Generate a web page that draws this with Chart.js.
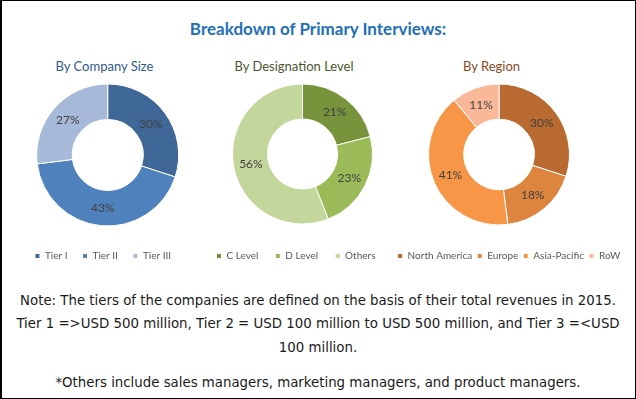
<!DOCTYPE html>
<html><head><meta charset="utf-8">
<script src="https://cdn.jsdelivr.net/npm/chart.js@4.4.0/dist/chart.umd.min.js"></script>
<style>
html,body{margin:0;padding:0;background:#fff;}
#frame{position:relative;width:636px;height:399px;overflow:hidden;background:#fff;}
#border{position:absolute;left:0;top:0;width:636px;height:399px;box-sizing:border-box;border:1px solid #000;border-left-width:2px;pointer-events:none;}
.abs{position:absolute;white-space:nowrap;}
#title{left:0;width:636px;top:19px;line-height:20px;text-align:center;font-family:Lato;font-weight:bold;font-size:17px;color:#1f6fb5;}
.sub{top:57px;line-height:18px;width:200px;text-align:center;font-family:Lato;font-size:13px;}
.note{left:0;width:636px;text-align:center;font-family:"DejaVu Sans";font-size:12px;line-height:20px;color:#1a1a1a;}
canvas{position:absolute;}
</style></head>
<body>
<div id="frame">
  <div id="title" class="abs">Breakdown of Primary Interviews:</div>
  <div class="abs sub" style="left:4.5px;color:#2f5b8c;">By Company Size</div>
  <div class="abs sub" style="left:194px;color:#4a572c;">By Designation Level</div>
  <div class="abs sub" style="left:391.5px;color:#8b4a1e;">By Region</div>
  <canvas id="c1" width="190" height="197" style="left:8px;top:74px;"></canvas>
  <canvas id="c2" width="210" height="197" style="left:191px;top:74px;"></canvas>
  <canvas id="c3" width="270" height="208" style="left:374px;top:63px;"></canvas>
  <div class="abs note" id="n1" style="top:291px;">Note: The tiers of the companies are defined on the basis of their total revenues in 2015.</div>
  <div class="abs note" id="n2" style="top:314px;">Tier 1 =&gt;USD 500 million, Tier 2 = USD 100 million to USD 500 million, and Tier 3 =&lt;USD</div>
  <div class="abs note" id="n3" style="top:338px;">100 million.</div>
  <div class="abs note" id="n4" style="top:373px;">*Others include sales managers, marketing managers, and product managers.</div>
  <div id="border"></div>
</div>
<script>
// ---- data ----
const companyLabels = ['Tier I', 'Tier II', 'Tier III'];
const companyValues = [30, 43, 27];
const designationLabels = ['C Level', 'D Level', 'Others'];
const designationValues = [21, 23, 56];
const regionLabels = ['North America', 'Europe', 'Asia-Pacific', 'RoW'];
const regionValues = [30, 18, 41, 11];

const companyColors = ['#3f6898', '#4f81bd', '#a7b9d9'];
const designationColors = ['#77933c', '#9bbb59', '#c3d69b'];
const regionColors = ['#b96a30', '#dd853e', '#f79646', '#f9b898'];

// fit note text width to reference
(function(){
  const n1 = document.getElementById('n1');
  const span = document.createElement('span');
  span.textContent = n1.textContent;
  span.style.font = '12px "DejaVu Sans"';
  span.style.whiteSpace = 'nowrap';
  span.style.position = 'absolute';
  span.style.visibility = 'hidden';
  document.body.appendChild(span);
  const w = span.getBoundingClientRect().width;
  document.body.removeChild(span);
  const size = 12 * 596 / w;
  document.querySelectorAll('.note').forEach(el => el.style.fontSize = size + 'px');
})();

Chart.defaults.font.family = 'Lato';

const pctLabels = {
  id: 'pctLabels',
  afterDatasetsDraw(chart) {
    const ctx = chart.ctx;
    const meta = chart.getDatasetMeta(0);
    const vals = chart.data.datasets[0].data;
    ctx.save();
    ctx.font = '12px Lato';
    ctx.fillStyle = '#404040';
    ctx.textAlign = 'center';
    ctx.textBaseline = 'middle';
    meta.data.forEach((arc, i) => {
      const p = arc.getCenterPoint();
      ctx.fillText(vals[i] + '%', p.x, p.y);
    });
    ctx.restore();
  }
};

// spacerSide/spacerWidth: an empty side title used only to shift the chart area
function makeDonut(id, labels, values, colors, radius, labelPad, spacerSide, spacerWidth) {
  const pad = (spacerWidth - 1.2) / 2;
  return new Chart(document.getElementById(id), {
    type: 'doughnut',
    data: {
      labels: labels,
      datasets: [{
        data: values,
        backgroundColor: colors,
        borderColor: '#ffffff',
        borderWidth: 1,
        hoverBorderWidth: 1,
        hoverOffset: 0,
        radius: radius,
        cutout: '50%'
      }]
    },
    options: {
      responsive: false,
      animation: false,
      events: [],
      layout: { padding: 0 },
      plugins: {
        tooltip: { enabled: false },
        title: {
          display: true,
          text: '',
          position: spacerSide,
          font: { size: 1 },
          padding: { top: pad, bottom: pad }
        },
        legend: {
          display: true,
          position: 'bottom',
          align: 'center',
          labels: {
            boxWidth: 5,
            boxHeight: 5,
            padding: labelPad,
            color: '#595959',
            font: { size: 10, family: 'Lato' }
          }
        }
      }
    },
    plugins: [pctLabels]
  });
}

makeDonut('c1', companyLabels, companyValues, companyColors, 71, 15, 'left', 9.4);
makeDonut('c2', designationLabels, designationValues, designationColors, 70, 17, 'left', 13);
makeDonut('c3', regionLabels, regionValues, regionColors, 70.5, 5, 'right', 20);
</script>
</body></html>
